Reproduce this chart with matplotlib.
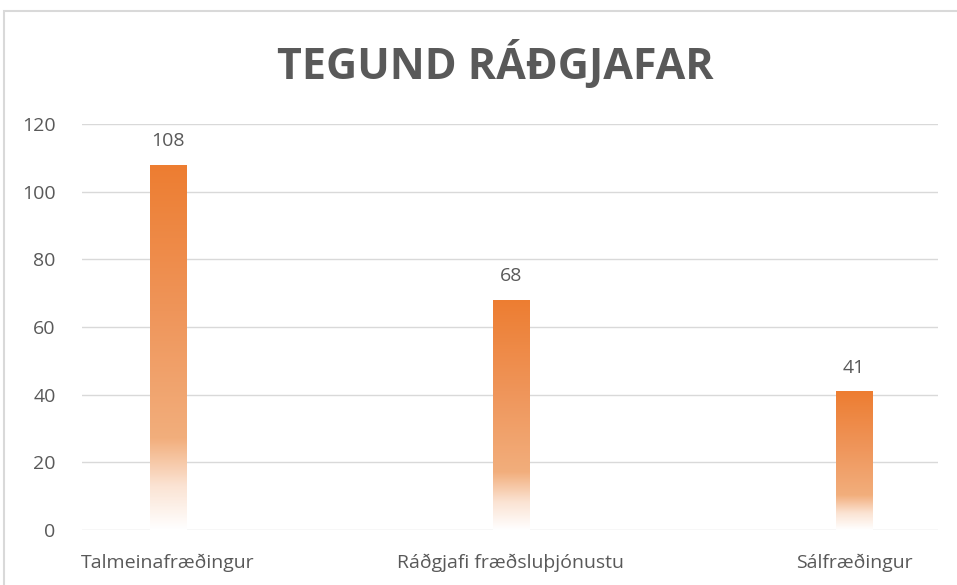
import numpy as np
import matplotlib.pyplot as plt
from matplotlib.colors import LinearSegmentedColormap
from matplotlib.patches import Rectangle

categories = ['Talmeinafræðingur', 'Ráðgjafi fræðsluþjónustu', 'Sálfræðingur']
values = [108, 68, 41]
yticks = [0, 20, 40, 60, 80, 100, 120]

plt.rcParams['font.family'] = ['Open Sans', 'DejaVu Sans']
txt = '#595959'

fig = plt.figure(figsize=(9.57, 5.85), dpi=100)
ax = fig.add_axes([82 / 957, 1 - 530 / 585, (938 - 82) / 957, (530 - 124) / 585])

# gradient orange -> white (top to bottom)
cmap = LinearSegmentedColormap.from_list('og', [
    (0.0, '#FFFFFF'), (0.12, '#FBE3D3'), (0.25, '#F2AE7C'),
    (0.6, '#EF955A'), (1.0, '#ED7D31')])
grad = np.linspace(0, 1, 256).reshape(-1, 1)

w = 0.105
for i, v in enumerate(values):
    r = Rectangle((i - w / 2, 0), w, v, facecolor='none', edgecolor='none')
    ax.add_patch(r)
    im = ax.imshow(grad, cmap=cmap, aspect='auto', origin='lower',
                   extent=(i - w / 2, i + w / 2, 0, v), zorder=3)
    im.set_clip_path(r)
    ax.text(i, v + 4.3, str(v), ha='center', va='bottom', color=txt, fontsize=14)

ax.set_xlim(-0.25, 2.245)
ax.set_ylim(0, 120)
ax.set_yticks(yticks)
ax.set_xticks(range(len(categories)))
ax.set_xticklabels(categories)
ax.tick_params(length=0, colors=txt, labelsize=14)
ax.tick_params(axis='y', pad=19)
ax.tick_params(axis='x', pad=17)
ax.grid(axis='y', color='#D9D9D9', linewidth=1)
ax.set_axisbelow(True)
for s in ax.spines.values():
    s.set_visible(False)

fig.text(495 / 957, 1 - 64 / 585, 'TEGUND RÁÐGJAFAR', ha='center', va='center',
         fontsize=31, fontweight='bold', color=txt)

fig.patches.append(Rectangle((4 / 957, -0.1), 1.2, 1.1 - 11 / 585,
                             transform=fig.transFigure, fill=False,
                             edgecolor='#D9D9D9', linewidth=1.5))

fig.savefig('out.png', dpi=100)
